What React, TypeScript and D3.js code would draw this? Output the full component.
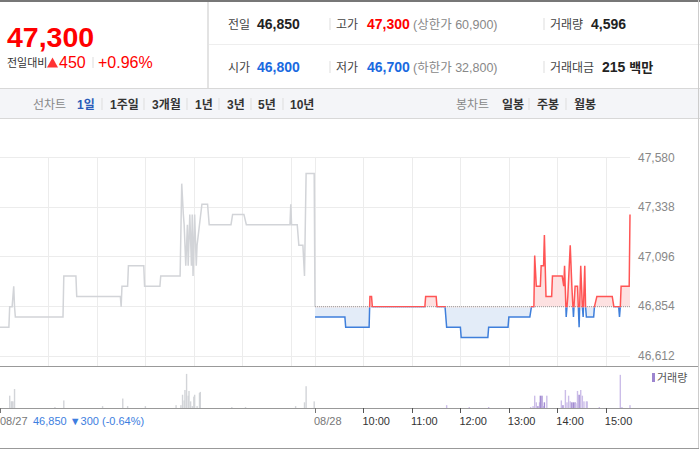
import * as d3 from 'd3';

// 전일(08/27) 가격: [장 시작 후 분, 가격]
const prevDayPrice: [number, number][] = [
  [0, 46750], [11, 46750], [12, 46850], [15, 46850], [17, 46950], [18, 46850], [19, 46800], [78, 46800], [79, 47000],
  [94, 47000], [95, 46900], [149, 46900], [150, 46850], [151, 46950], [158, 46950], [159, 47050],
  [178, 47050], [179, 46950], [198, 46950], [199, 47000], [223, 47000], [225, 47450], [227, 47300],
  [228, 47250], [230, 47050], [232, 47250], [233, 47050], [235, 47300], [237, 47050], [238, 47300],
  [239, 47000], [241, 47300], [243, 47050], [244, 47150], [247, 47250], [250, 47350], [257, 47350],
  [259, 47250], [286, 47250], [288, 47300], [302, 47300], [305, 47250], [359, 47250], [360, 47350],
  [361, 47250], [368, 47250], [370, 47150], [375, 47150], [377, 47000], [379, 47500], [389, 47500],
  [390, 46850],
];

// 당일(08/28) 가격
const todayPrice: [number, number][] = [
  [0, 46800], [37, 46800], [38, 46750], [67, 46750], [68, 46900], [70, 46900], [71, 46850], [136, 46850],
  [137, 46900], [150, 46900], [151, 46850], [161, 46850], [163, 46750], [180, 46750], [181, 46700],
  [214, 46700], [215, 46750], [239, 46750], [240, 46800], [266, 46800], [268, 46850], [271, 46850],
  [272, 47100], [274, 46950], [279, 46950], [280, 47050], [283, 47050], [284, 47200], [285, 47050],
  [286, 46900], [293, 46900], [294, 47000], [306, 47000], [308, 46950], [309, 47050], [311, 46800],
  [312, 46850], [313, 46900], [316, 47150], [318, 46950], [320, 46800], [322, 46950], [325, 46950],
  [327, 46750], [328, 46900], [329, 47050], [331, 46850], [332, 46800], [334, 47050], [335, 46850],
  [336, 46800], [345, 46800], [346, 46850], [349, 46900], [368, 46900], [370, 46850], [376, 46850],
  [377, 46800], [378, 46850], [379, 46950], [389, 46950], [390, 47300],
];

// 거래량: [분, 주식수]
const prevDayVolume: [number, number][] = [
  [12, 156], [14, 84], [15, 84], [16, 84], [18, 240], [68, 12], [79, 96], [127, 24], [152, 120],
  [158, 24], [180, 24], [218, 36], [224, 36], [226, 168], [228, 96], [229, 228], [231, 432], [233, 156],
  [234, 216], [236, 84], [238, 24], [240, 144], [241, 168], [244, 24], [247, 192], [248, 204],
  [287, 12], [304, 12], [366, 24], [377, 72], [379, 276], [389, 84],
];

// [분, 주식수, 진한색 여부]
const todayVolume: [number, number, number][] = [
  [163, 36, 0], [191, 12, 0], [215, 12, 0], [267, 12, 0], [270, 24, 0], [272, 156, 0], [274, 72, 0],
  [276, 24, 1], [278, 72, 0], [279, 156, 1], [281, 156, 1], [283, 24, 0], [284, 72, 1], [287, 156, 0],
  [305, 96, 0], [307, 36, 1], [310, 228, 0], [312, 72, 0], [314, 156, 0], [316, 84, 0], [318, 72, 1],
  [320, 72, 1], [322, 72, 1], [323, 60, 0], [325, 216, 0], [327, 168, 1], [329, 228, 0], [331, 156, 0],
  [333, 84, 0], [336, 84, 0], [337, 84, 0], [352, 12, 0], [378, 420, 0], [380, 12, 0], [390, 36, 0],
];

const prevClose = 46850;
const priceTicks = [46612, 46854, 47096, 47338, 47580];
const gridMinutes = [60, 120, 180, 240, 300, 360, 390, 450, 510, 570, 630, 690, 750];
const axisMinutes = [0, 390, 450, 510, 570, 630, 690, 750];
const axisLabels = ['08/27', '08/28', '10:00', '11:00', '12:00', '13:00', '14:00', '15:00'];
const lineTabs = ['1일', '1주일', '3개월', '1년', '3년', '5년', '10년'];
const candleTabs = ['일봉', '주봉', '월봉'];

const SESSION = 390;
const FONT = "'Liberation Sans', Arial, 'Noto Sans CJK KR', sans-serif";

export default function App() {
  const x = d3.scaleLinear().domain([0, SESSION * 2]).range([0, 630]);
  const y = d3.scaleLinear().domain([46612, 47580]).range([355.5, 157]);
  const yv = d3.scaleLinear().domain([0, 456]).range([408, 372]);
  const baseY = y(prevClose);

  const prevLine = d3.line<[number, number]>()
    .x(d => x(d[0]))
    .y(d => y(d[1]));
  const todayLine = d3.line<[number, number]>()
    .x(d => x(SESSION + d[0]))
    .y(d => y(d[1]));
  const todayArea = d3.area<[number, number]>()
    .x(d => x(SESSION + d[0]))
    .y0(baseY)
    .y1(d => y(d[1]));

  // 탭 위치
  const tabX = [77, 110, 152, 195, 227, 258, 290];
  const sepX = [102, 144, 187, 219, 251, 283];
  const candleX = [502, 537, 574];

  return (
    <svg width={700} height={450} style={{ position: 'fixed', left: 0, top: 0, background: '#fff' }}
      fontFamily={FONT}>
      <defs>
        <clipPath id="above"><rect x={0} y={0} width={700} height={baseY + 0.8} /></clipPath>
        <clipPath id="below"><rect x={0} y={baseY + 0.8} width={700} height={200} /></clipPath>
      </defs>

      {/* 헤더 */}
      <rect x={0} y={0} width={700} height={2} fill="#777" />
      <line x1={208} x2={208} y1={2} y2={88} stroke="#e3e3e3" strokeWidth={2} />
      <line x1={209} x2={700} y1={44.5} y2={44.5} stroke="#eee" />
      <text x={7} y={47} fontSize={28.5} fontWeight="bold" fill="#f00">47,300</text>
      <text x={7} y={67} fontSize={11} fill="#333">전일대비</text>
      <path d="M52.5,57.5L58,67.5L47,67.5Z" fill="#f33" />
      <text x={59} y={68} fontSize={16} fill="#f00">450</text>
      <line x1={93} x2={93} y1={57} y2={68} stroke="#ddd" />
      <text x={98} y={68} fontSize={16} fill="#f00">+0.96%</text>

      <g fontSize={12}>
        <text x={228} y={29} fill="#444">전일</text>
        <text x={257} y={29} fontSize={14} fontWeight="bold" fill="#222">46,850</text>
        <line x1={330} x2={330} y1={18} y2={30} stroke="#ddd" />
        <text x={336} y={29} fill="#444">고가</text>
        <text x={367} y={29} fontSize={14} fontWeight="bold" fill="#f00">47,300</text>
        <text x={413} y={29} fontSize={12.5} fill="#888">(상한가 60,900)</text>
        <line x1={544} x2={544} y1={18} y2={30} stroke="#ddd" />
        <text x={550} y={29} fill="#444">거래량</text>
        <text x={591} y={29} fontSize={14} fontWeight="bold" fill="#222">4,596</text>

        <text x={228} y={72} fill="#444">시가</text>
        <text x={257} y={72} fontSize={14} fontWeight="bold" fill="#1a6ae0">46,800</text>
        <line x1={330} x2={330} y1={61} y2={73} stroke="#ddd" />
        <text x={336} y={72} fill="#444">저가</text>
        <text x={367} y={72} fontSize={14} fontWeight="bold" fill="#1a6ae0">46,700</text>
        <text x={413} y={72} fontSize={12.5} fill="#888">(하한가 32,800)</text>
        <line x1={544} x2={544} y1={61} y2={73} stroke="#ddd" />
        <text x={550} y={72} fill="#444">거래대금</text>
        <text x={602} y={72} fontSize={14} fontWeight="bold" fill="#222">215 <tspan fontSize={13}>백만</tspan></text>
      </g>

      {/* 탭 바 */}
      <rect x={0} y={88} width={700} height={31} fill="#f4f5f8" />
      <line x1={0} x2={700} y1={88.5} y2={88.5} stroke="#d8d8d8" />
      <line x1={0} x2={700} y1={118.5} y2={118.5} stroke="#d8d8d8" />
      <g fontSize={12}>
        <text x={33} y={109} fill="#888">선차트</text>
        {lineTabs.map((t, i) => (
          <text key={t} x={tabX[i]} y={109} fontWeight="bold" fill={i === 0 ? '#2a5ab8' : '#333'}>{t}</text>
        ))}
        {sepX.map(sx => <line key={sx} x1={sx} x2={sx} y1={98} y2={110} stroke="#ddd" />)}
        <text x={456} y={109} fill="#888">봉차트</text>
        {candleTabs.map((t, i) => (
          <text key={t} x={candleX[i]} y={109} fontWeight="bold" fill="#333">{t}</text>
        ))}
        <line x1={529} x2={529} y1={98} y2={110} stroke="#ddd" />
        <line x1={566} x2={566} y1={98} y2={110} stroke="#ddd" />
      </g>

      {/* 그리드 */}
      {priceTicks.map(t => (
        <g key={t}>
          <line x1={0} x2={630} y1={Math.round(y(t)) + 0.5} y2={Math.round(y(t)) + 0.5} stroke="#ececec" />
          <text x={638} y={y(t) + 4.5} fontSize={12} fill="#888">{d3.format(',')(t)}</text>
        </g>
      ))}
      {gridMinutes.map(m => (
        <line key={m} x1={Math.round(x(m)) + 0.5} x2={Math.round(x(m)) + 0.5} y1={157} y2={366} stroke="#ececec" />
      ))}

      {/* 가격 */}
      <path d={prevLine(prevDayPrice) ?? ''} fill="none" stroke="#d2d4d8" strokeWidth={1.5} />
      <path d={todayArea(todayPrice) ?? ''} fill="#fde1e1" clipPath="url(#above)" />
      <path d={todayArea(todayPrice) ?? ''} fill="#e3ecf8" clipPath="url(#below)" />
      <line x1={x(SESSION)} x2={630} y1={baseY} y2={baseY} stroke="#999" strokeDasharray="1,1" />
      <path d={todayLine(todayPrice) ?? ''} fill="none" stroke="#ff5555" strokeWidth={1.5} clipPath="url(#above)" />
      <path d={todayLine(todayPrice) ?? ''} fill="none" stroke="#3f7fdb" strokeWidth={1.5} clipPath="url(#below)" />

      {/* 경계 */}
      <line x1={0} x2={699} y1={366.5} y2={366.5} stroke="#999" />
      <line x1={698.5} x2={698.5} y1={0} y2={449} stroke="#ccc" />
      <line x1={0} x2={699} y1={448.5} y2={448.5} stroke="#999" />

      {/* 거래량 */}
      {prevDayVolume.map(([m, v]) => (
        <rect key={'p' + m} x={x(m) - 0.7} y={yv(v)} width={1.4} height={408 - yv(v)} fill="#d2d4d8" />
      ))}
      {todayVolume.map(([m, v, dark]) => (
        <rect key={'t' + m} x={x(SESSION + m) - 0.7} y={yv(v)} width={1.4} height={408 - yv(v)}
          fill={dark ? '#a28bd2' : '#cbbde8'} />
      ))}
      <rect x={652} y={373} width={3} height={9} fill="#9d85cf" />
      <text x={657} y={381.5} fontSize={11} fill="#555">거래량</text>

      {/* X축 */}
      <line x1={0} x2={699} y1={408.5} y2={408.5} stroke="#999" />
      {axisMinutes.map((m, i) => (
        <g key={m}>
          <line x1={Math.round(x(m)) + 0.5} x2={Math.round(x(m)) + 0.5} y1={408} y2={413} stroke={i < 2 ? '#777' : '#555'} />
          <text x={Math.max(0, x(m) - 1)} y={425} fontSize={11} fill={i < 2 ? '#777' : '#333'}>{axisLabels[i]}</text>
        </g>
      ))}
      <text x={33} y={425} fontSize={11} fill="#3d7ee0">46,850 ▼300 (-0.64%)</text>
    </svg>
  );
}
